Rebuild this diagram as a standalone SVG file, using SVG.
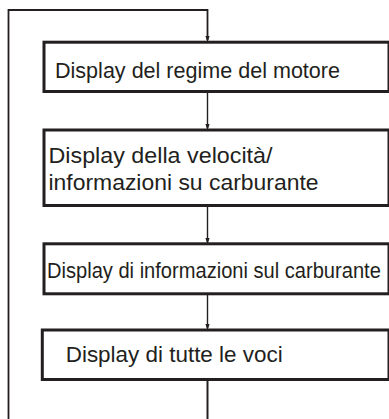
<svg xmlns="http://www.w3.org/2000/svg" width="389" height="419" viewBox="0 0 389 419">
<style>
.box{fill:#fff;stroke:#231f20;stroke-width:3}
.lbl{font-family:"Liberation Sans",Arial,sans-serif;font-size:21.5px;fill:#231f20}
.ln{fill:none;stroke:#231f20;stroke-width:1.4}
</style>
<defs>
<marker id="ah" markerWidth="7" markerHeight="11" refX="7" refY="3.5" orient="auto" markerUnits="userSpaceOnUse" viewBox="0 0 11 7">
<path d="M0,0 L11,3.5 L0,7 Z" fill="#231f20"/>
</marker>
</defs>
<g id="connectors">
<path class="ln" d="M207.5,381 V419" style="stroke-width:2"/>
<path class="ln" d="M8.5,419 V10 H207.5 V40" marker-end="url(#ah)" style="stroke-width:1.8"/>
<path class="ln" d="M207.5,93 V128" marker-end="url(#ah)"/>
<path class="ln" d="M207.5,207 V242" marker-end="url(#ah)"/>
<path class="ln" d="M207.5,295 V328" marker-end="url(#ah)"/>
</g>
<g id="node1">
<rect class="box" x="44" y="42.2" width="345" height="49.3"/>
<text class="lbl" x="55" y="78" textLength="285" lengthAdjust="spacingAndGlyphs">Display del regime del motore</text>
</g>
<g id="node2">
<rect class="box" x="44" y="130" width="345" height="75.5"/>
<text class="lbl" x="48.5" y="163" textLength="224" lengthAdjust="spacingAndGlyphs">Display della velocità/</text>
<text class="lbl" x="48.5" y="190" textLength="270" lengthAdjust="spacingAndGlyphs">informazioni su carburante</text>
</g>
<g id="node3">
<rect class="box" x="44" y="243.8" width="345" height="50"/>
<text class="lbl" transform="translate(47,278) scale(1,1.065)" x="0" y="0" style="font-size:20.1px">Display di informazioni sul carburante</text>
</g>
<g id="node4">
<rect class="box" x="42.3" y="330" width="346.7" height="49.5"/>
<text class="lbl" x="65.7" y="361.7" textLength="217" lengthAdjust="spacingAndGlyphs">Display di tutte le voci</text>
</g>
</svg>
